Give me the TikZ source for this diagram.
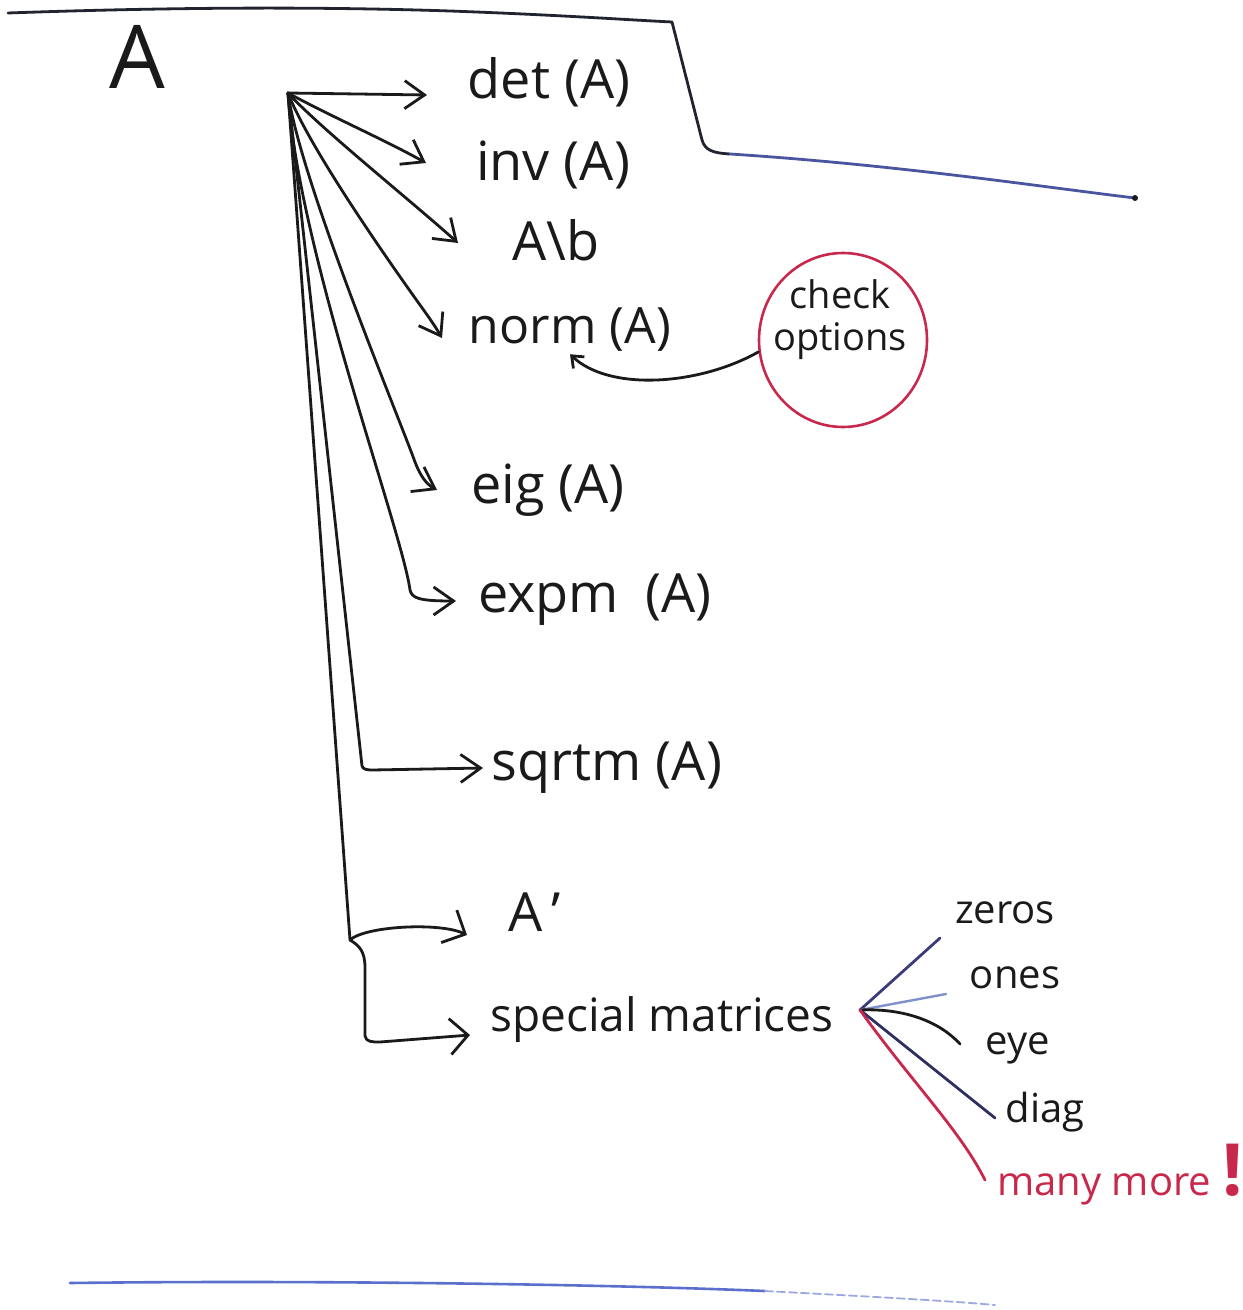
\documentclass[tikz,border=0pt]{standalone}
\usepackage{fontspec}
\setmainfont{Open Sans}
\usetikzlibrary{arrows.meta,shapes.geometric}
\definecolor{ink}{HTML}{1A1A1A}
\definecolor{redc}{HTML}{C8284C}
\definecolor{navy}{HTML}{3C3C78}
\definecolor{lblue}{HTML}{8090CC}
\definecolor{lineblue}{HTML}{5A70CC}
\definecolor{topblue}{HTML}{4A55A0}
\begin{document}
\begin{tikzpicture}[x=0.5pt,y=-0.5pt,
  stroke/.style={line width=1.4pt,color=ink,line cap=round,line join=round},
  arr/.style={stroke,-{Straight Barb[length=10pt,width=14pt,line width=1.4pt]}},
  bigarr/.style={stroke,-{Straight Barb[length=9pt,width=18pt,line width=1.4pt]}},
  lbl/.style={inner sep=1pt,font=\fontsize{27}{29}\selectfont,text=ink},
  small/.style={inner sep=1pt,font=\fontsize{20}{21}\selectfont,text=ink},
]
\useasboundingbox (0,0) rectangle (1242,1310);

% top frame line
\draw[stroke,color=ink!85!topblue] (8,13) .. controls (150,8) and (300,6) .. (450,11)
  .. controls (560,15) and (630,20) .. (672,22) -- (702,140)
  .. controls (705,150) and (712,153) .. (730,154);
\draw[stroke,color=topblue] (730,154) .. controls (900,165) and (1050,188) .. (1135,198);
\fill[ink] (1135,198) circle (3);

% bottom line
\draw[line width=1.3pt,color=lineblue,line cap=round] (70,1283) .. controls (300,1280) and (600,1284) .. (765,1291);
\draw[line width=0.9pt,color=lineblue!60,line cap=round,dash pattern=on 4pt off 2pt] (765,1291) .. controls (880,1297) and (950,1301) .. (995,1305);

% labels
\node[inner sep=0pt,font=\fontsize{44}{46}\selectfont,text=ink] (A) at (137,57) {A};
\node[lbl] (det) at (549,82) {det (A)};
\node[lbl] (inv) at (553,165) {inv (A)};
\node[lbl] (Ab) at (556,240) {A\textbackslash b};
\node[lbl,font=\fontsize{25}{27}\selectfont] (norm) at (570,330) {norm (A)};
\node[lbl] (eig) at (548,490) {eig (A)};
\node[lbl] (expm) at (595,600) {expm\enspace (A)};
\node[lbl] (sqrtm) at (607,768) {sqrtm (A)};
\node[lbl] (At) at (535,912) {A\,'};
\node[lbl,font=\fontsize{23}{25}\selectfont] (spec) at (662,1020) {special matrices};

% check options
\node[small,align=center,font=\fontsize{19}{21}\selectfont] (chk) at (840,320) {check\\options};
\node[ellipse,draw=redc,line width=1.3pt,minimum width=84pt,minimum height=87pt,inner sep=0pt] (circ) at (843,340) {};
\draw[stroke,-{Straight Barb[length=5pt,width=8pt,line width=1.4pt]}] (circ.188)
  .. controls (700,385) and (610,392) .. (norm.south);

% special matrices children
\node[small] (zeros) at (1005,913) {zeros};
\node[small] (ones) at (1015,978) {ones};
\node[small] (eye) at (1018,1048) {eye};
\node[small] (diag) at (1045,1112) {diag};
\node[inner sep=1pt,anchor=base west,font=\fontsize{20}{21}\selectfont,text=redc] (many) at (995,1195)
  {many more\;{\fontsize{36}{36}\selectfont\bfseries !}};

% hub and arrow tips
\coordinate (hub) at (288,93);
\coordinate (tdet) at (427,95);
\coordinate (tinv) at (426,163);
\coordinate (tAb) at (458,243);
\coordinate (tnorm) at (442,338);
\coordinate (teig) at (437,490);
\coordinate (texpm) at (456,601);
\coordinate (tsqrt) at (483,768);
\coordinate (tAt) at (467,935);
\coordinate (tspec) at (470,1035);
\coordinate (fork) at (350,940);
\coordinate (shub) at (860,1010);

\draw[arr] (hub) -- (tdet);
\draw[arr] (hub) .. controls (330,116) and (385,140) .. (tinv);
\draw[arr] (hub) .. controls (320,128) and (410,200) .. (tAb);
\draw[arr] (hub) .. controls (310,150) and (395,270) .. (420,305) .. controls (428,316) and (435,326) .. (tnorm);
\draw[arr] (hub) .. controls (300,180) and (400,420) .. (415,462) .. controls (420,475) and (426,484) .. (teig);
\draw[arr] (hub) .. controls (298,250) and (402,530) .. (410,590)
  .. controls (412,598) and (418,601) .. (texpm);
\draw[arr] (hub) -- (362,766) .. controls (363,769) and (366,770) .. (372,770) -- (tsqrt);
\draw[bigarr] (hub) -- (fork) .. controls (365,926) and (440,922) .. (tAt);
\draw[bigarr] (fork) .. controls (360,946) and (365,952) .. (365,968) -- (365,1036)
  .. controls (366,1042) and (372,1042) .. (380,1042) -- (tspec);

\draw[stroke,color=navy] (shub) -- (940,938);
\draw[stroke,color=lblue,line width=1.2pt] (shub) -- (946,994);
\draw[stroke] (shub) .. controls (905,1008) and (940,1022) .. (960,1044);
\draw[stroke,color=navy!80!black] (shub) -- (995,1118);
\draw[stroke,color=redc] (shub) .. controls (910,1080) and (960,1130) .. (985,1180);
\end{tikzpicture}
\end{document}
